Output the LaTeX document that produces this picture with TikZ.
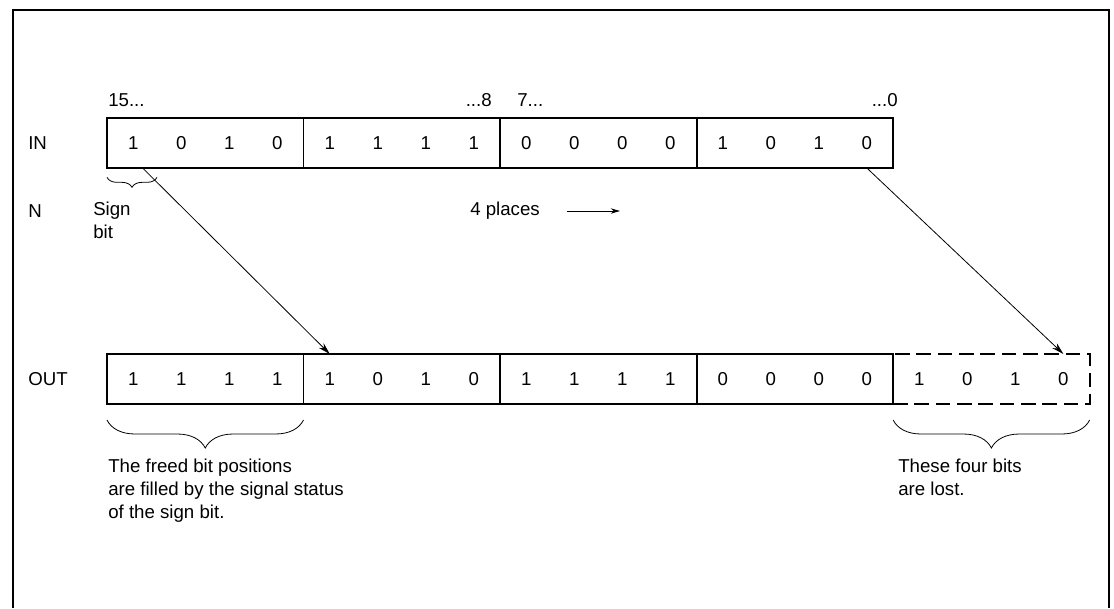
\documentclass[tikz,border=0pt]{standalone}
\usepackage{fontspec}
\setmainfont{Liberation Sans}
\usetikzlibrary{arrows.meta,positioning,decorations.pathreplacing}

\begin{document}
\begin{tikzpicture}[x=0.75pt,y=-0.75pt,node distance=0pt,font=\fontsize{14}{17}\selectfont,
  nib/.style={draw,line width=1.4pt,outer sep=0pt,minimum width=147.4pt,minimum height=37.5pt},
  bit/.style={inner sep=0pt},
  lbl/.style={inner sep=0pt,anchor=west},
  brc/.style={decorate,decoration={brace,mirror,amplitude=#1},line width=0.6pt},
  >={Stealth[length=9pt,width=5pt]}]
\useasboundingbox (0,0) rectangle (1114,608);
\draw[line width=1.8pt] (13,608) -- (13,10) -- (1109,10) -- (1109,608);
% registers
\node[nib] (in1) at (205.25,143) {};
\node[nib,right=of in1] (in2) {};
\node[nib,right=of in2] (in3) {};
\node[nib,right=of in3] (in4) {};
\node[nib,below=139.5pt of in1] (out1) {};
\node[nib,right=of out1] (out2) {};
\node[nib,right=of out2] (out3) {};
\node[nib,right=of out3] (out4) {};
\node[nib,dashed,dash pattern=on 11pt off 5pt,right=of out4] (out5) {};
\foreach \n/\v in {in1/{1,0,1,0},in2/{1,1,1,1},in3/{0,0,0,0},in4/{1,0,1,0},out1/{1,1,1,1},out2/{1,0,1,0},out3/{1,1,1,1},out4/{0,0,0,0},out5/{1,0,1,0}}
  \foreach \b [count=\i] in \v
    \node[bit] (\n-\i) at ([xshift={(36*\i-90)*1pt}]\n.center) {\b};
% labels
\node[lbl] (inlbl) at (28,143) {IN};
\node[lbl] (nlbl) at (28,211) {N};
\node[lbl] (outlbl) at (28,379) {OUT};
\node[lbl] (b15) at (108,100) {15...};
\node[lbl,anchor=east] (b8) at (492,100) {...8};
\node[lbl] (b7) at (517,100) {7...};
\node[lbl,anchor=east] (b0) at (898,100) {...0};
\node[lbl,anchor=north west,align=left] (sign) at (93,202) {Sign\\bit};
\node[lbl] (places) at (470,211) {4 places};
\coordinate[right=20pt of places] (sh0);
\coordinate[right=40pt of sh0] (sh1);
\draw[->,line width=0.6pt,>={Stealth[length=7pt,width=4pt]}] (sh0) -- (sh1);
% braces
\draw[brc=7.5pt] ([yshift=-7pt]in1.south west) -- ([xshift=37.5pt,yshift=-7pt]in1.south west);
\draw[brc=21pt] ([yshift=-12pt]out1.south west) -- ([yshift=-12pt]out1.south east);
\draw[brc=21pt] ([yshift=-12pt]out5.south west) -- ([yshift=-12pt]out5.south east);
\node[lbl,anchor=north west,align=left] (freed) at (108,459) {The freed bit positions\\are filled by the signal status\\of the sign bit.};
\node[lbl,anchor=north west,align=left] (lost) at (898,459) {These four bits\\are lost.};
% shift arrows
\draw[->,line width=0.6pt] ([xshift=7pt]in1-1 |- in1.south) -- (out2-1 |- out2.north);
\draw[->,line width=0.6pt] (in4-4 |- in4.south) -- (out5-4 |- out5.north);
\end{tikzpicture}
\end{document}
